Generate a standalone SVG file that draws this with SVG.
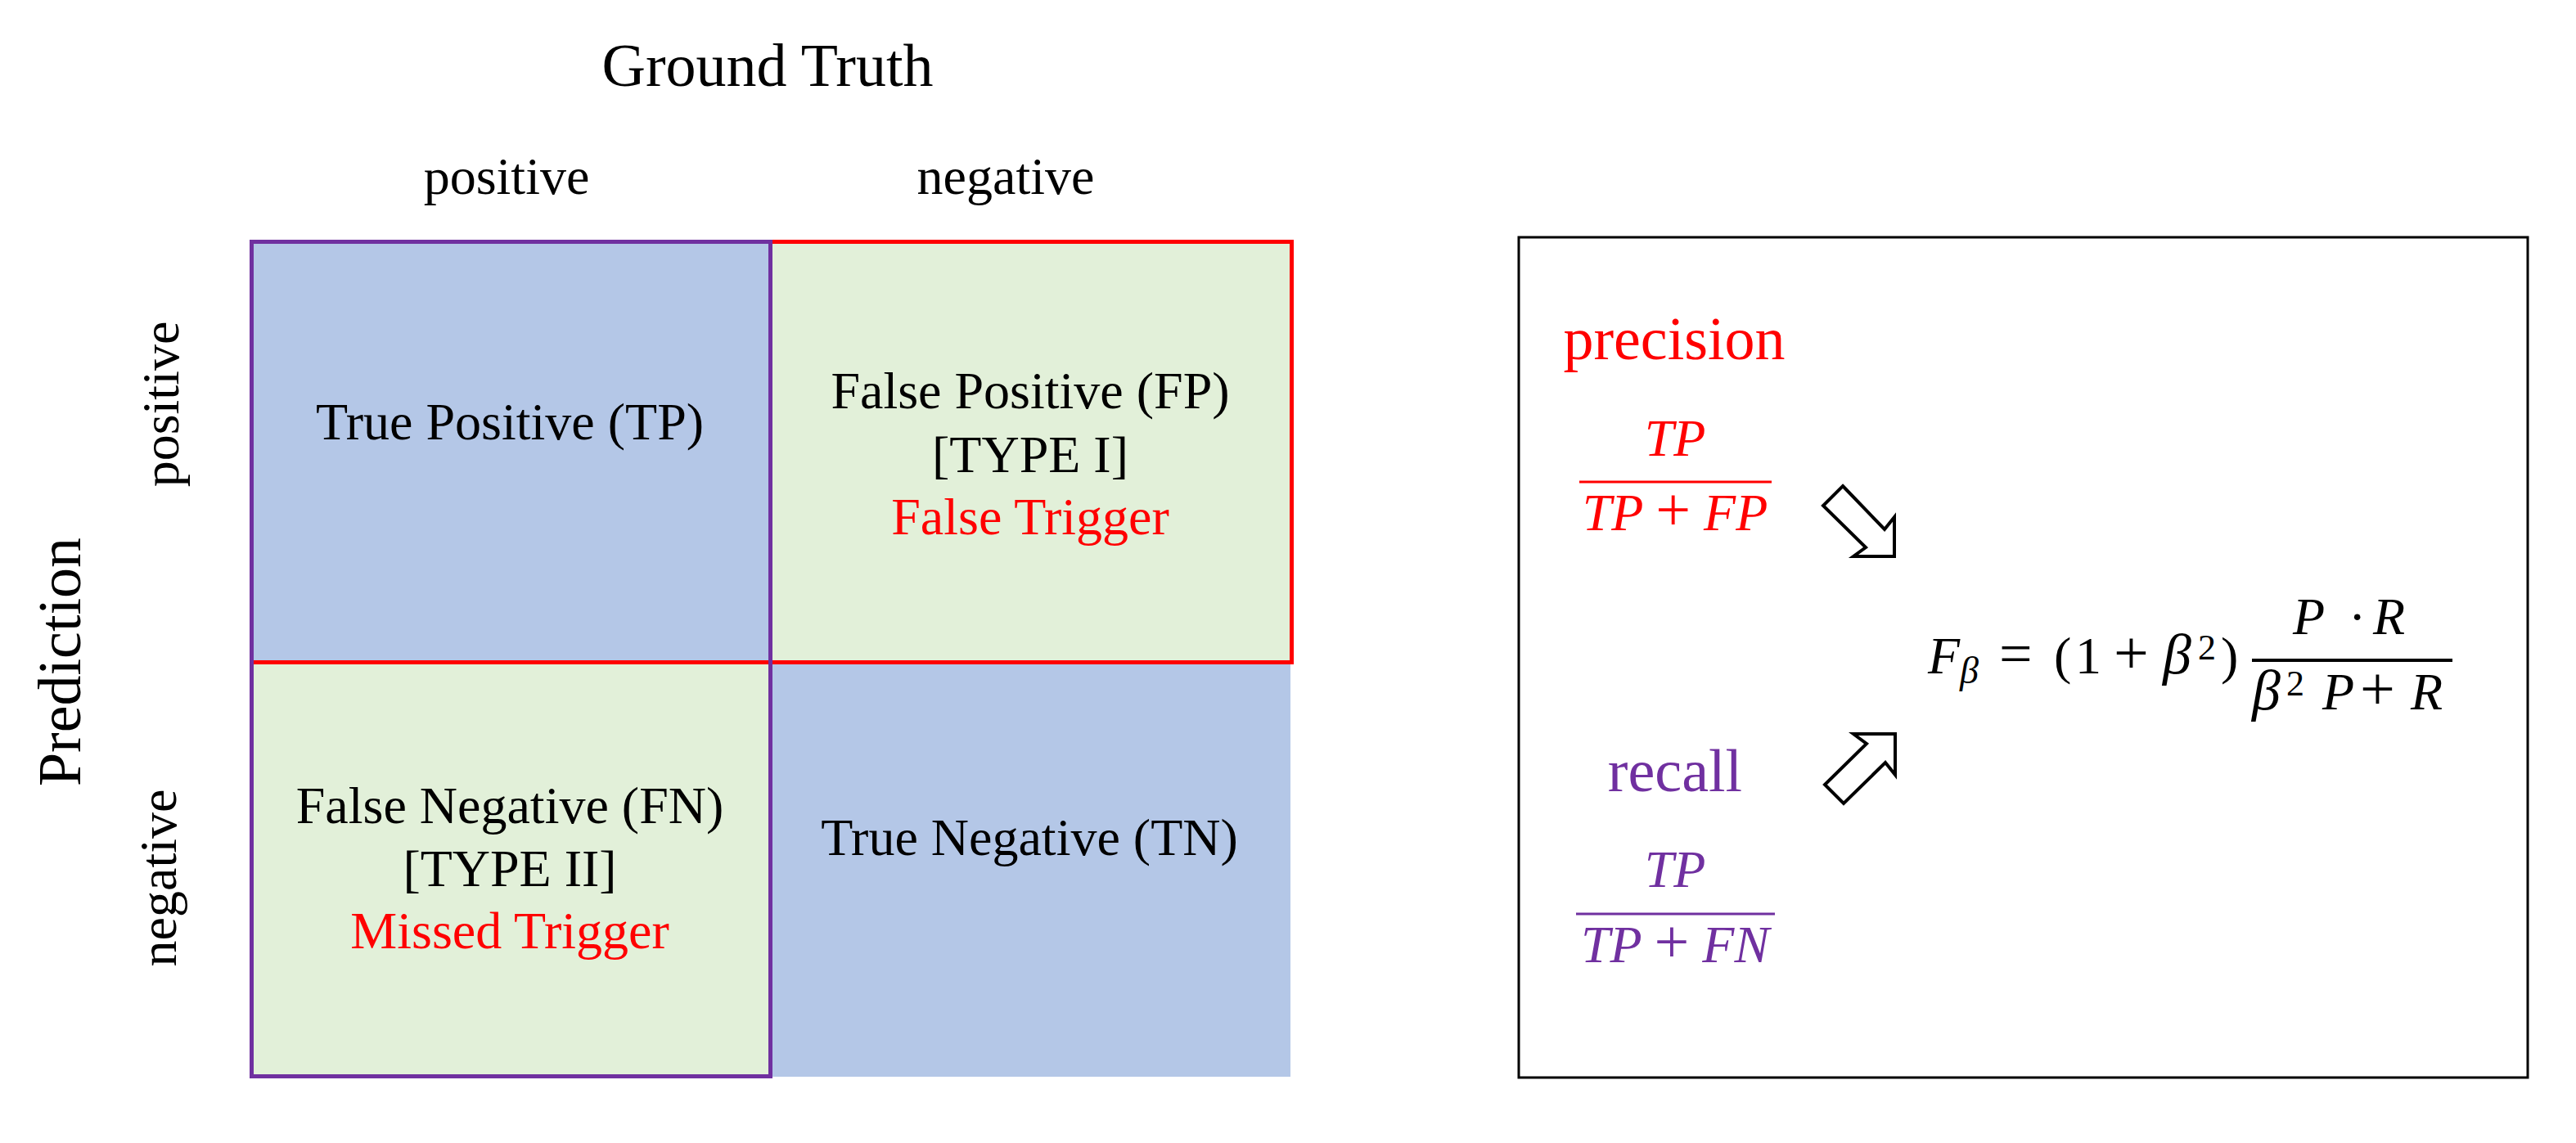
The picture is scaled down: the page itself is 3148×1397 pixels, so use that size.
<svg xmlns="http://www.w3.org/2000/svg" width="3148" height="1397" viewBox="0 0 3148 1397">
<style>
text{font-family:"Liberation Serif","Times New Roman",serif;fill:#000}
.lbl{font-size:64px}
.big{font-size:74px}
.mid{text-anchor:middle}
.red{fill:#FF0000}
.pur{fill:#7030A0}
.math{font-size:64px;font-style:italic}
.up{font-style:normal}
.op{font-style:normal;font-size:76px}
.sc{font-style:normal;font-size:44px}
.gr{font-size:70px}
.blue{fill:#B4C7E7}
.green{fill:#E2F0D9}
.arrow{fill:#FFFFFF;stroke:#000;stroke-width:4;stroke-linejoin:miter}
</style>
<rect width="3148" height="1397" fill="#FFFFFF"/>
<g id="headers">
<text class="big mid" x="938" y="105">Ground Truth</text>
<text class="lbl mid" x="619" y="237">positive</text>
<text class="lbl mid" x="1229" y="237">negative</text>
<text class="big mid" transform="translate(98 809) rotate(-90)">Prediction</text>
<text class="lbl mid" transform="translate(218 494) rotate(-90)">positive</text>
<text class="lbl mid" transform="translate(215 1073) rotate(-90)">negative</text>
</g>
<g id="cell-tp">
<rect class="blue" x="307" y="295" width="634" height="514"/>
<text class="lbl mid" x="623" y="537">True Positive (TP)</text>
</g>
<g id="cell-fp">
<rect class="green" x="941" y="295" width="638" height="514"/>
<text class="lbl mid" x="1259" y="499">False Positive (FP)</text>
<text class="lbl mid" x="1259" y="577">[TYPE I]</text>
<text class="lbl mid red" x="1259" y="653">False Trigger</text>
</g>
<g id="cell-fn">
<rect class="green" x="307" y="809" width="634" height="507"/>
<text class="lbl mid" x="623" y="1006">False Negative (FN)</text>
<text class="lbl mid" x="623" y="1083">[TYPE II]</text>
<text class="lbl mid red" x="623" y="1159">Missed Trigger</text>
</g>
<g id="cell-tn">
<rect class="blue" x="941" y="809" width="636" height="507"/>
<text class="lbl mid" x="1258" y="1045">True Negative (TN)</text>
</g>
<g id="borders" fill="none" stroke-width="5">
<rect x="307.5" y="295.5" width="1271" height="514" stroke="#FF0000"/>
<rect x="307.5" y="295.5" width="634" height="1020" stroke="#7030A0"/>
</g>
<g id="panel">
<rect x="1856" y="290" width="1233" height="1027" fill="none" stroke="#000" stroke-width="3"/>
</g>
<g id="precision">
<text class="big mid red" x="2046" y="439">precision</text>
<text class="math mid red" x="2047" y="557">TP</text>
<line x1="1930" y1="589" x2="2165" y2="589" stroke="#FF0000" stroke-width="3"/>
<text class="math mid red" x="2047" y="648">TP <tspan class="op">+</tspan> FP</text>
</g>
<g id="recall">
<text class="big mid pur" x="2047" y="967">recall</text>
<text class="math mid pur" x="2047" y="1084">TP</text>
<line x1="1926" y1="1117" x2="2169" y2="1117" stroke="#7030A0" stroke-width="3"/>
<text class="math mid pur" x="2047" y="1176">TP <tspan class="op">+</tspan> FN</text>
</g>
<g id="formula">
<text class="math" x="2356" y="823">F<tspan class="gr" style="font-size:46px" x="2395" y="835">β</tspan><tspan class="op" style="font-size:72px" x="2443" y="823">=</tspan><tspan class="up" x="2510" y="823">(</tspan><tspan class="up" x="2536" y="823">1</tspan><tspan class="op" x="2583" y="823">+</tspan><tspan class="gr" x="2643" y="823">β</tspan><tspan class="sc" x="2686" y="806">2</tspan><tspan class="up" x="2714" y="823">)</tspan></text>
<line x1="2752" y1="807" x2="2997" y2="807" stroke="#000" stroke-width="4"/>
<text class="math" x="2802" y="775">P<tspan class="up" x="2870" y="775">·</tspan><tspan x="2900" y="775">R</tspan></text>
<text class="math" x="2752" y="867"><tspan class="gr">β</tspan><tspan class="sc" x="2794" y="850">2</tspan><tspan x="2838" y="867">P</tspan><tspan class="op" x="2884" y="867">+</tspan><tspan x="2946" y="867">R</tspan></text>
</g>
<g id="connectors">
<polygon class="arrow" points="2252,594 2303,647 2315,632 2315,680 2265,680 2280,669 2228,618"/>
<polygon class="arrow" points="2265,897 2316,897 2316,947 2304,932 2253,982 2230,959 2281,909"/>
</g>
</svg>
